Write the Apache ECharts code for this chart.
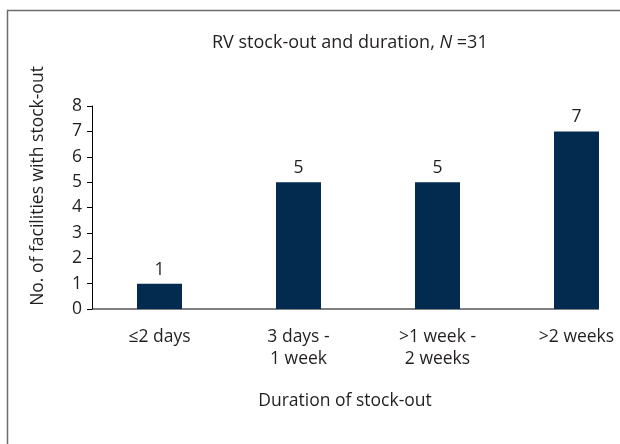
<!DOCTYPE html>
<html>
<head>
<meta charset="utf-8">
<script src="https://cdn.jsdelivr.net/npm/echarts@6/dist/echarts.min.js"></script>
<style>
  html, body { margin: 0; padding: 0; background: #fff; }
  #chart { width: 620px; height: 444px; }
</style>
</head>
<body>
<div id="chart"></div>
<script>
const categories = ['≤2 days', '3 days -\n1 week', '>1 week -\n2 weeks', '>2 weeks']
const facilities = [1, 5, 5, 7]
const yTicks = [0, 1, 2, 3, 4, 5, 6, 7, 8]

const font = 'Open Sans'
const ink = '#231f20'
const barColor = '#022b4f'
const barWidth = 45
const fs = 17.5

const chart = echarts.init(document.getElementById('chart'))

chart.setOption({
  animation: false,
  textStyle: { fontFamily: font, color: ink },
  title: {
    text: '{a|RV stock-out and duration, }{i|N}{a| =31}',
    left: 212,
    top: 34,
    padding: 0,
    textStyle: {
      rich: {
        a: { fontFamily: font, fontSize: 18, color: ink, fontWeight: 'normal' },
        i: { fontFamily: font, fontSize: 18, color: ink, fontStyle: 'italic', fontWeight: 'normal' }
      }
    }
  },
  grid: {
    left: 90,
    width: 556,
    top: 106,
    bottom: 135,
    containLabel: false,
    outerBoundsMode: 'none' // let the last category run past the canvas edge
  },
  xAxis: {
    type: 'category',
    data: categories,
    axisLine: { show: false },
    axisTick: { show: false },
    axisLabel: {
      margin: 17,
      fontSize: fs,
      lineHeight: 22,
      color: ink,
      fontFamily: font
    },
    name: 'Duration of stock-out',
    nameLocation: 'middle',
    nameGap: 83,
    nameTextStyle: {
      fontSize: fs,
      color: ink,
      fontFamily: font,
      padding: [0, 46, 0, 0]
    }
  },
  yAxis: {
    type: 'value',
    min: yTicks[0],
    max: yTicks[yTicks.length - 1],
    interval: 1,
    offset: -2,
    splitLine: { show: false },
    axisLine: { show: true, lineStyle: { color: '#000', width: 1 } },
    axisTick: { show: true, length: 5, lineStyle: { color: '#000' } },
    axisLabel: { margin: 10, fontSize: fs, color: ink, fontFamily: font },
    name: 'No. of facilities with stock-out',
    nameLocation: 'middle',
    nameGap: 45,
    nameTextStyle: {
      fontSize: fs,
      color: ink,
      fontFamily: font,
      padding: [0, 0, 0, 43]
    }
  },
  series: [
    {
      type: 'bar',
      data: facilities,
      barWidth: barWidth,
      itemStyle: { color: barColor },
      label: {
        show: true,
        position: 'top',
        distance: 5,
        fontSize: fs,
        color: ink,
        fontFamily: font
      }
    }
  ]
})

// frame + x axis line that stops at the last bar
const origin = chart.convertToPixel({ gridIndex: 0 }, [0, 0])
const lastX = chart.convertToPixel({ xAxisIndex: 0 }, categories.length - 1)
chart.setOption({
  graphic: [
    {
      type: 'rect',
      shape: { x: 7.5, y: 10.5, width: 700, height: 500 },
      style: { fill: 'none', stroke: '#6b6b6b', lineWidth: 1.5 },
      silent: true
    },
    {
      type: 'line',
      shape: { x1: 92, y1: origin[1], x2: lastX + barWidth / 2, y2: origin[1] },
      style: { stroke: '#000', lineWidth: 1 },
      silent: true
    }
  ]
})
</script>
</body>
</html>
